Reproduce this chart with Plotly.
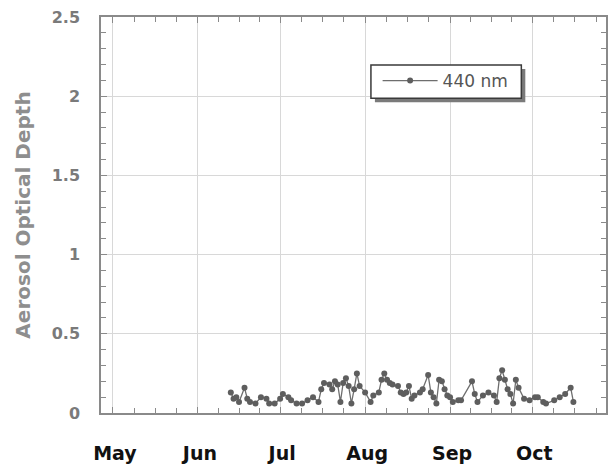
import plotly.graph_objects as go
import pandas as pd

# ---- data ----
dates = [
    "2001-06-13", "2001-06-14", "2001-06-15", "2001-06-16", "2001-06-18", "2001-06-19",
    "2001-06-20", "2001-06-22", "2001-06-24", "2001-06-26", "2001-06-27", "2001-06-29",
    "2001-07-01", "2001-07-02", "2001-07-04", "2001-07-05", "2001-07-07", "2001-07-09",
    "2001-07-11", "2001-07-13", "2001-07-15", "2001-07-16", "2001-07-17", "2001-07-19",
    "2001-07-20", "2001-07-21", "2001-07-22", "2001-07-23", "2001-07-24", "2001-07-25",
    "2001-07-26", "2001-07-27", "2001-07-28", "2001-07-29", "2001-07-30", "2001-08-01",
    "2001-08-03", "2001-08-04", "2001-08-06", "2001-08-07", "2001-08-08", "2001-08-09",
    "2001-08-10", "2001-08-11", "2001-08-13", "2001-08-14", "2001-08-15", "2001-08-16",
    "2001-08-17", "2001-08-18", "2001-08-19", "2001-08-21", "2001-08-22", "2001-08-24",
    "2001-08-25", "2001-08-26", "2001-08-27", "2001-08-28", "2001-08-29", "2001-08-30",
    "2001-08-31", "2001-09-01", "2001-09-02", "2001-09-04", "2001-09-05", "2001-09-09",
    "2001-09-10", "2001-09-11", "2001-09-13", "2001-09-15", "2001-09-17", "2001-09-18",
    "2001-09-19", "2001-09-20", "2001-09-21", "2001-09-22", "2001-09-23", "2001-09-24",
    "2001-09-25", "2001-09-26", "2001-09-28", "2001-09-30", "2001-10-02", "2001-10-03",
    "2001-10-05", "2001-10-06", "2001-10-09", "2001-10-11", "2001-10-13", "2001-10-15",
    "2001-10-16",
]
aod_440 = [
    0.13, 0.09, 0.10, 0.07, 0.16, 0.09,
    0.07, 0.06, 0.10, 0.09, 0.06, 0.06,
    0.09, 0.12, 0.10, 0.08, 0.06, 0.06,
    0.08, 0.10, 0.07, 0.15, 0.19, 0.18,
    0.15, 0.20, 0.18, 0.07, 0.19, 0.22,
    0.17, 0.06, 0.15, 0.25, 0.17, 0.13,
    0.07, 0.11, 0.13, 0.21, 0.25, 0.21,
    0.19, 0.18, 0.17, 0.13, 0.12, 0.13,
    0.17, 0.09, 0.11, 0.13, 0.15, 0.24,
    0.13, 0.10, 0.06, 0.21, 0.20, 0.15,
    0.11, 0.10, 0.07, 0.08, 0.08, 0.20,
    0.12, 0.07, 0.11, 0.13, 0.11, 0.07,
    0.22, 0.27, 0.21, 0.15, 0.12, 0.06,
    0.21, 0.16, 0.09, 0.08, 0.10, 0.10,
    0.07, 0.06, 0.08, 0.10, 0.12, 0.16,
    0.07,
]
month_ticks = ["2001-05-01", "2001-06-01", "2001-07-01", "2001-08-01", "2001-09-01", "2001-10-01"]
month_labels = ["May", "Jun", "Jul", "Aug", "Sep", "Oct"]
series_name = "440 nm"
y_title = "Aerosol Optical Depth"

# quarter-month minor tick positions (style only)
minor_vals = []
for m in range(4, 11):
    start = pd.Timestamp(2001, m, 1)
    ndays = start.days_in_month
    for k in range(4):
        minor_vals.append((start + pd.Timedelta(days=ndays * k / 4)).strftime("%Y-%m-%d %H:%M"))

AX = "#8a8a8a"
GRID = "#d8d8d8"

# plot-area pixel frame (for placing the legend box)
L, R, T, B = 101, 608, 17, 421
def px(xp):
    return (xp - L) / (R - L)
def py(yp):
    return (B - yp) / (B - T)

fig = go.Figure()
fig.add_trace(go.Scatter(
    x=dates, y=aod_440, mode="lines+markers", name=series_name,
    line=dict(color="#6e6e6e", width=1.3),
    marker=dict(symbol="circle", size=6, color="#5e5e5e"),
    showlegend=True,
))

fig.update_layout(
    width=615, height=471,
    margin=dict(l=L, r=615 - R, t=T, b=471 - B),
    paper_bgcolor="white", plot_bgcolor="white",
    showlegend=True,
    legend=dict(
        x=px(378.7), y=py(64), xanchor="left", yanchor="top",
        bgcolor="rgba(0,0,0,0)", borderwidth=0,
        font=dict(family="DejaVu Sans", size=17, color="#555555"),
        itemwidth=55,
    ),
    xaxis=dict(
        type="date",
        range=["2001-04-26 15:20", "2001-10-27 21:30"],
        tickmode="array", tickvals=month_ticks, ticktext=month_labels,
        ticks="inside", ticklen=6, tickcolor=AX, tickwidth=1,
        showline=True, linecolor=AX, linewidth=1.5, mirror="allticks",
        showgrid=True, gridcolor=GRID, gridwidth=1,
        zeroline=False,
        tickfont=dict(family="DejaVu Sans", size=19, color="#111111", weight="bold"),
        ticklabelstandoff=22, ticklabelshift=2,
        minor=dict(tickmode="array", tickvals=minor_vals, ticks="inside",
                   ticklen=5, tickcolor=AX, showgrid=False),
    ),
    yaxis=dict(
        range=[0, 2.5], tickmode="linear", tick0=0, dtick=0.5,
        ticks="inside", ticklen=6, tickcolor=AX, tickwidth=1,
        showline=True, linecolor=AX, linewidth=1.5, mirror="allticks",
        showgrid=True, gridcolor=GRID, gridwidth=1,
        zeroline=False,
        tickfont=dict(family="DejaVu Sans", size=16, color="#7a7a7a", weight="bold"),
        ticklabelstandoff=16,
        minor=dict(dtick=0.1, ticks="inside", ticklen=5, tickcolor=AX, showgrid=False),
        title=dict(text=y_title, standoff=16,
                   font=dict(family="DejaVu Sans", size=20, color="#8e8e8e", weight="bold")),
    ),
)

# legend frame with drop shadow
fig.add_shape(type="rect", xref="paper", yref="paper",
              x0=px(376), x1=px(527), y0=py(104), y1=py(70),
              fillcolor="#7a7a7a", line=dict(width=0), layer="above")
fig.add_shape(type="rect", xref="paper", yref="paper",
              x0=px(372), x1=px(523), y0=py(100), y1=py(66),
              fillcolor="white", line=dict(color="#3a3a3a", width=1.5), layer="above")

fig.write_html("out.html")
